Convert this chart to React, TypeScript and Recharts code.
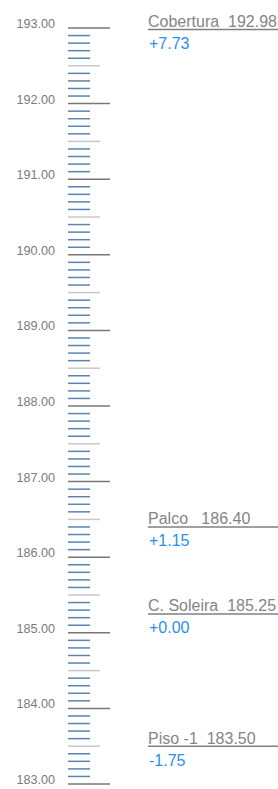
import React from 'react';
import { ComposedChart, XAxis, YAxis, Scatter } from 'recharts';

// Elevation scale
const axisMin = 183;
const axisMax = 193;
const minorPerUnit = 10;

// Levels
const levelNames = ['Cobertura', 'Palco', 'C. Soleira', 'Piso -1'];
const levelElevations = [192.98, 186.4, 185.25, 183.5];
const levelGaps = ['  ', '   ', '  ', '  '];
const referenceElevation = 185.25;

const allTicks: number[] = [];
for (let i = axisMin * minorPerUnit; i <= axisMax * minorPerUnit; i++) {
  allTicks.push(Math.round(i) / minorPerUnit);
}

const levelData = levelNames.map((name, i) => ({
  x: 80,
  y: levelElevations[i],
  name,
  gap: levelGaps[i],
  rel: levelElevations[i] - referenceElevation,
}));

const FONT = '"Liberation Sans", Arial, Helvetica, sans-serif';

const ScaleTick = (props: any) => {
  const { x, y, payload } = props;
  const v = payload.value as number;
  const k = Math.round(v * minorPerUnit);
  const isMajor = k % minorPerUnit === 0;
  const isHalf = !isMajor && k % (minorPerUnit / 2) === 0;
  if (isMajor) {
    return (
      <g>
        <line x1={x} x2={x + 42} y1={y} y2={y} stroke="#777" strokeWidth={1.5} />
        <text x={x - 13} y={y} textAnchor="end" fontSize={12.6} fill="#7a7a7a" fontFamily={FONT}>
          {v.toFixed(2)}
        </text>
      </g>
    );
  }
  if (isHalf) {
    return <line x1={x} x2={x + 32} y1={y} y2={y} stroke="#c8c8c8" strokeWidth={1.5} />;
  }
  return <line x1={x} x2={x + 22} y1={y} y2={y} stroke="#5b84b1" strokeWidth={1.5} />;
};

const LevelShape = (props: any) => {
  const { cx, cy, payload } = props;
  const rel = payload.rel as number;
  const relText = (rel >= 0 ? '+' : '') + rel.toFixed(2);
  return (
    <g>
      <line x1={cx} x2={cx + 300} y1={cy} y2={cy} stroke="#808080" strokeWidth={1.5} />
      <text x={cx} y={cy - 2.5} fontSize={16} fill="#858585" fontFamily={FONT} style={{ whiteSpace: 'pre' }}>
        {payload.name + payload.gap + payload.y.toFixed(2)}
      </text>
      <text x={cx + 1} y={cy + 19.5} fontSize={16} fill="#2a8ff0" fontFamily={FONT}>
        {relText}
      </text>
    </g>
  );
};

export default function App() {
  return (
    <div style={{ position: 'absolute', left: 0, top: 0, width: 278, height: 789, background: '#fff' }}>
      <ComposedChart width={278} height={789} margin={{ top: 28, right: 0, bottom: 5, left: 0 }} data={levelData}>
        <XAxis type="number" dataKey="x" domain={[0, 210]} hide />
        <YAxis
          type="number"
          dataKey="y"
          domain={[axisMin, axisMax]}
          ticks={allTicks}
          interval={0}
          width={68}
          axisLine={false}
          tickLine={false}
          tickSize={0}
          tickMargin={0}
          tick={<ScaleTick />}
        />
        <Scatter data={levelData} dataKey="y" shape={<LevelShape />} isAnimationActive={false} />
      </ComposedChart>
    </div>
  );
}
